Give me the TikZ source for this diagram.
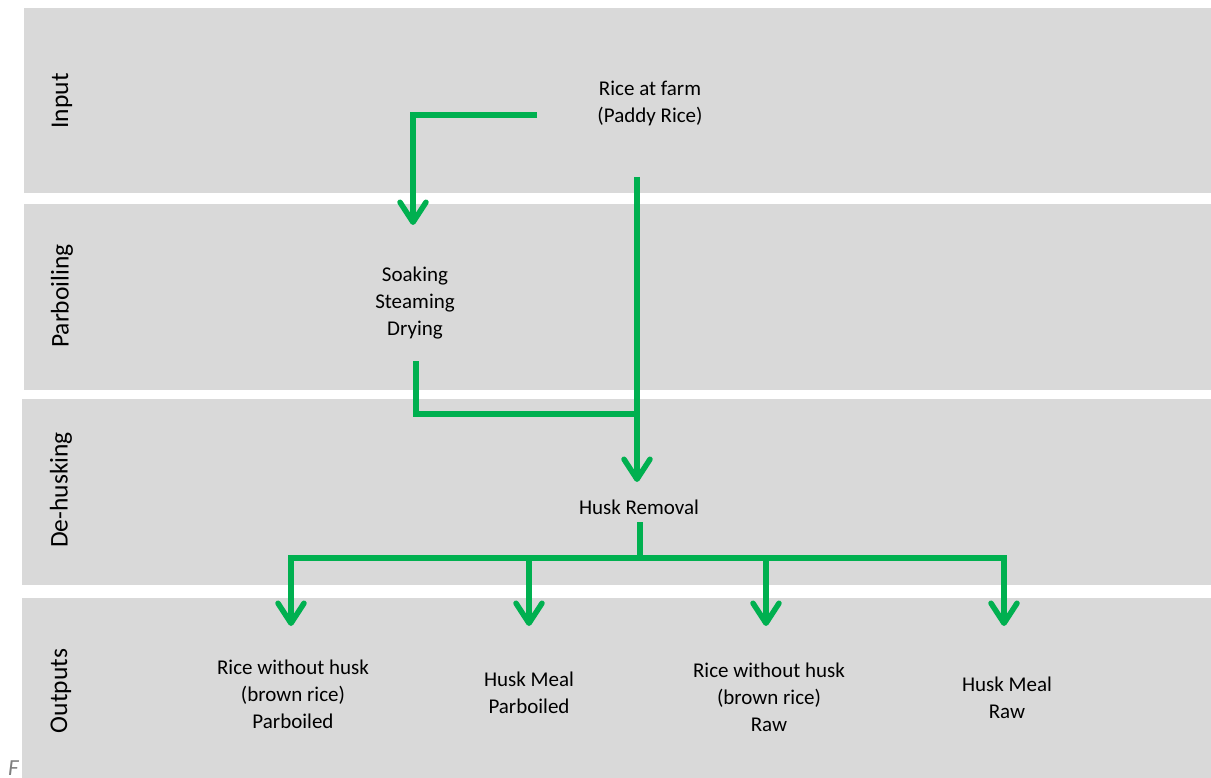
\documentclass[tikz,border=0pt]{standalone}
\usepackage{fontspec}
\setmainfont{Carlito}
\usetikzlibrary{arrows.meta}
\definecolor{bandgray}{HTML}{D9D9D9}
\definecolor{flowgreen}{HTML}{00B050}
\definecolor{capgray}{HTML}{7F7F7F}

\begin{document}
\begin{tikzpicture}[x=1pt,y=-1pt,
  bandbox/.style={fill=bandgray,draw=none},
  stage/.style={rotate=90,font=\fontsize{25.5}{30}\selectfont,inner sep=0pt},
  label/.style={align=center,font=\fontsize{21}{27}\selectfont,inner sep=0pt},
  flow/.style={draw=flowgreen,line width=5.5pt,line join=miter},
  tip/.style={-{Straight Barb[length=20pt,width=26pt,line cap=round,line join=round]}}
]
\useasboundingbox (0,0) rectangle (1211,778);

% caption letter peeking out from behind the last band
\node[font=\fontsize{23}{27}\selectfont\itshape,text=capgray,anchor=base west,inner sep=0pt] (cap) at (8,775) {F};

% stage bands
\path[bandbox] (24,8) rectangle (1211,193);
\path[bandbox] (24,204) rectangle (1211,390);
\path[bandbox] (22,399) rectangle (1211,585);
\path[bandbox] (22,598) rectangle (1211,778);

% stage names
\node[stage] (sIn)  at (62,101) {Input};
\node[stage] (sPar) at (62,296) {Parboiling};
\node[stage] (sDeh) at (61,490) {De-husking};
\node[stage] (sOut) at (61,691) {Outputs};

% process texts
\node[label] (farm) at (650,103) {Rice at farm\\(Paddy Rice)};
\node[label] (par)  at (415,303) {Soaking\\Steaming\\Drying};
\node[label] (husk) at (639,507) {Husk Removal};
\node[label] (o1) at (293,694) {Rice without husk\\(brown rice)\\Parboiled};
\node[label] (o2) at (529,693) {Husk Meal\\Parboiled};
\node[label] (o3) at (769,697) {Rice without husk\\(brown rice)\\Raw};
\node[label] (o4) at (1007,698) {Husk Meal\\Raw};

% connector waypoints
\coordinate (farmL) at (537,115);
\coordinate (parIn) at (413,225);
\coordinate (farmD) at (637,177);
\coordinate (huskIn) at (637,482);
\coordinate (parOut) at (416,361);
\coordinate (join) at (637,414);
\coordinate (huskOut) at (640,522);
\coordinate (split) at (640,558);
\coordinate (t1) at (291,626);
\coordinate (t2) at (529,626);
\coordinate (t3) at (766,626);
\coordinate (t4) at (1004,626);

% flows
\draw[flow,tip] (farmL) -| (parIn);
\draw[flow,tip] (farmD) -- (huskIn);
\draw[flow] (parOut) |- (join);
\draw[flow] (huskOut) -- (split);
\draw[flow,tip] (split) -| (t1);
\draw[flow,tip] (split) -| (t2);
\draw[flow,tip] (split) -| (t3);
\draw[flow,tip] (split) -| (t4);
\end{tikzpicture}
\end{document}
